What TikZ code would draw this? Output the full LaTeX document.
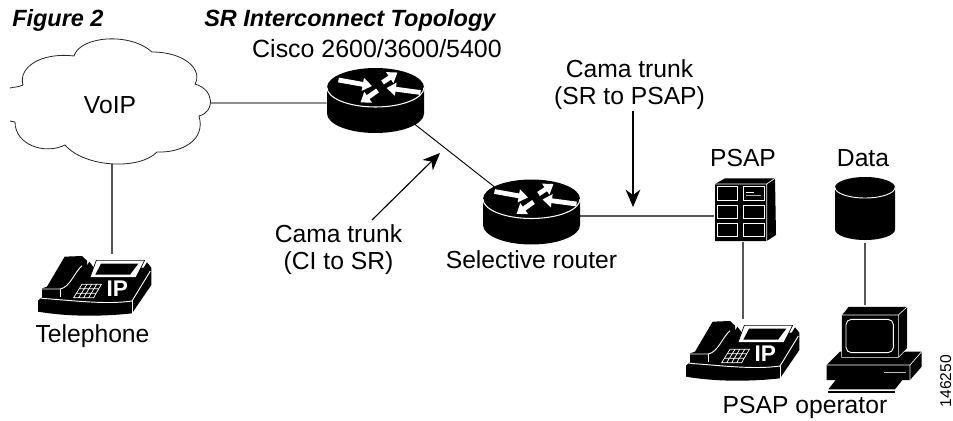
\documentclass[tikz,border=0pt]{standalone}
\usepackage{fontspec}
\setmainfont{Liberation Sans}
\usetikzlibrary{arrows.meta}
\definecolor{wire}{HTML}{555555}
\newcommand{\lab}{\fontsize{18.5pt}{20pt}\selectfont}
\tikzset{
  wireline/.style={wire,line width=1pt},
  thinline/.style={black,line width=.7pt},
  callout/.style={black,line width=.85pt,-{Stealth[length=13pt,width=11pt,inset=4pt]},shorten >=0pt},
  txt/.style={font=\lab,anchor=base,inner sep=0pt,align=center},
  titletxt/.style={font=\fontsize{17.6pt}{18pt}\selectfont\bfseries\itshape,anchor=base west,inner sep=0pt},
  whitearrow/.style={white,line width=3.6pt,-{Triangle[length=7pt,width=9.5pt]}},
  pics/routericon/.style={code={
    \fill[black] (-48.5,0) -- (-48.5,26) arc[start angle=180,end angle=0,x radius=48.5,y radius=19.5]
       -- (48.5,0) arc[start angle=0,end angle=-180,x radius=48.5,y radius=19.5] -- cycle;
    \draw[white,line width=.8pt] (-48.5,0) arc[start angle=180,end angle=0,x radius=48.5,y radius=19.5];
    \draw[whitearrow] (-37,-7.5) -- (-3.5,-1.5);
    \draw[whitearrow] (7,-5) -- (22,-15);
    \draw[whitearrow] (45,5) -- (11,0.5);
    \draw[whitearrow] (2,3) -- (-15,15);
  }},
  pics/phoneicon/.style={code={
    \begin{scope}[x=.25pt,y=-.25pt]
    \fill[black] (18,167) -- (30,157) -- (30,130) -- (45,125) -- (98,35) -- (150,33) -- (165,47)
      -- (165,62) -- (172,50) -- (184,66) -- (335,68) -- (345,52) -- (358,68)
      -- (358,120) -- (300,205) .. controls (200,216) and (100,214) .. (18,200) -- cycle;
    \filldraw[fill=white,draw=black,line width=.5pt] (193,46) -- (338,46) -- (312,97) -- (174,97) -- cycle;
    \fill[black] (207,56) -- (319,56) -- (294,89) -- (190,89) -- cycle;
    \draw[white,line width=.7pt] (150,62) .. controls (125,85) and (115,125) .. (85,132) -- (30,132);
    \draw[white,line width=.7pt] (85,132) -- (85,157);
    \draw[white,line width=.7pt] (28,160) .. controls (110,165) and (220,180) .. (300,168) -- (355,78);
    \draw[white,line width=.7pt] (300,168) -- (300,205);
    \draw[white,line width=.55pt] (150,118) -- (208,118) -- (185,158) -- (125,158) -- cycle
      (142,131) -- (201,131) (134,145) -- (193,145)
      (165,118) -- (140,158) (179,118) -- (155,158) (194,118) -- (170,158);
    \node[white,anchor=base,inner sep=0pt,font=\fontsize{17pt}{18pt}\selectfont\bfseries] (ip) at (256,155) {IP};
    \end{scope}
  }},
}
\begin{document}
\begin{tikzpicture}[x=.75pt,y=-.75pt]
\useasboundingbox (0,0) rectangle (953,421);
% invisible anchor nodes
\node[inner sep=0pt,minimum width=142.5pt,minimum height=88.5pt] (cloud) at (112,103) {};
\node[inner sep=0pt,minimum width=72.75pt,minimum height=48pt] (r1) at (375.5,93.4) {};
\node[inner sep=0pt,minimum width=72.75pt,minimum height=48pt] (r2) at (531.5,216) {};
\node[inner sep=0pt,minimum width=43.5pt,minimum height=39pt] (psap) at (743,216) {};
\node[inner sep=0pt,minimum width=45pt,minimum height=48pt] (phoneB) at (743,351) {};
\node[inner sep=0pt,minimum width=45pt,minimum height=48pt] (phoneA) at (112,286) {};
\node[inner sep=0pt,minimum width=45pt,minimum height=49.5pt] (data) at (865,210) {};
\node[inner sep=0pt,minimum width=45pt,minimum height=30pt] (comp) at (865,325) {};
\coordinate (c1s) at (372,220);
\coordinate (c1t) at (440,153);
\coordinate (c2s) at (633,111);
\coordinate (c2t) at (633,207);
% connectors
\draw[wireline] ([yshift=-7.2pt]r1.west) -- (cloud.east);
\draw[wireline] (cloud.south) -- (phoneA.north);
\draw[thinline] (r1.center) -- (r2.center);
\draw[wireline] (r2.east) -- (psap.west);
\draw[wireline] (psap.south) -- (phoneB.north);
\draw[wireline] (data.south) -- (comp.north);
\draw[callout] (c1s) -- (c1t);
\draw[callout] (c2s) -- (c2t);
% cloud
\filldraw[fill=white,draw=black!85,line width=.6pt]
  (10,88) .. controls (14,87) and (19,87) .. (23,85)
  .. controls (18,68) and (40,52) .. (74,56)
  .. controls (80,36) and (130,32) .. (152,52)
  .. controls (185,52) and (203,70) .. (195,84)
  .. controls (215,90) and (215,112) .. (199,116)
  .. controls (206,140) and (182,153) .. (157,152)
  .. controls (140,170) and (85,168) .. (65,145)
  .. controls (45,155) and (15,145) .. (15,122)
  -- (10,121);
\node[txt] (voiplab) at (110,113) {VoIP};
% routers
\pic (routerA) at (375.5,87.5) {routericon};
\pic (routerB) at (531.5,199) {routericon};
% phones
\pic (phA) at (32,245) {phoneicon};
\pic (phB) at (680,310) {phoneicon};
% PSAP
\begin{scope}[shift={(715,170)},x=.25pt,y=-.25pt]
  \fill[black] (0,42) -- (30,25) -- (180,25) -- (183,195) -- (155,213) -- (0,213) -- cycle;
  \draw[white,line width=.5pt] (0,42) -- (155,42) -- (180,25) (155,42) -- (155,213);
  \draw[white,line width=.7pt] (7,50) rectangle (68,90) (85,50) rectangle (147,90)
     (7,105) rectangle (68,145) (85,105) rectangle (147,145)
     (7,160) rectangle (68,200) (85,160) rectangle (147,200);
  \draw[white,line width=.6pt] (93,67) -- (117,67);
  \draw[black!30,line width=.6pt] (93,77) -- (138,77);
\end{scope}
% data cylinder
\fill[black] (835,187.5) -- (835,229.5) arc[start angle=180,end angle=0,x radius=30,y radius=10.5]
  -- (895,187.5) arc[start angle=0,end angle=-180,x radius=30,y radius=10.5] -- cycle;
\draw[white,line width=.7pt] (835,187.5) arc[start angle=180,end angle=0,x radius=30,y radius=10.5];
% computer
\begin{scope}[shift={(820,300)},x=.25pt,y=-.25pt]
  \fill[black] (20,195) -- (60,155) -- (305,155) -- (305,200) -- (270,240) -- (20,240) -- cycle;
  \draw[white,line width=.5pt] (20,195) -- (270,195) -- (305,155) (270,195) -- (270,240);
  \draw[black!25,line width=1pt] (193,218) -- (257,218);
  \filldraw[fill=black,draw=white,line width=.4pt] (65,45) -- (85,20) -- (262,20) -- (262,145) -- (235,172) -- (65,172) -- cycle;
  \draw[white,line width=.45pt] (65,45) -- (235,45) -- (262,20) (235,45) -- (235,172);
  \draw[white,line width=.7pt,rounded corners=4pt] (78,58) rectangle (220,158);
  \fill[black] (47,240) -- (247,240) -- (225,268) -- (25,268) -- cycle;
  \fill[black] (25,272) -- (225,272) -- (225,280) -- (25,280) -- cycle;
\end{scope}
% labels
\node[titletxt] (figlab) at (12,26.5) {Figure 2};
\node[titletxt] (toplab) at (204,26.5) {SR Interconnect Topology};
\node[txt,font=\fontsize{18.7pt}{20pt}\selectfont] (ciscolab) at (377,57) {Cisco 2600/3600/5400};
\node[txt] (cama2a) at (629.5,77) {Cama trunk};
\node[txt] (cama2b) at (629.5,104) {(SR to PSAP)};
\node[txt] (cama1a) at (338.5,242) {Cama trunk};
\node[txt] (cama1b) at (338.5,269) {(CI to SR)};
\node[txt] (selab) at (531.5,268) {Selective router};
\node[txt] (tellab) at (92.5,342) {Telephone};
\node[txt] (psaplab) at (743,166) {PSAP};
\node[txt] (datalab) at (863,166) {Data};
\node[txt] (oplab) at (805,413) {PSAP operator};
\node[anchor=base,inner sep=0pt,rotate=90,font=\fontsize{11.7pt}{13pt}\selectfont] (numlab) at (951,381) {146250};
\end{tikzpicture}
\end{document}
